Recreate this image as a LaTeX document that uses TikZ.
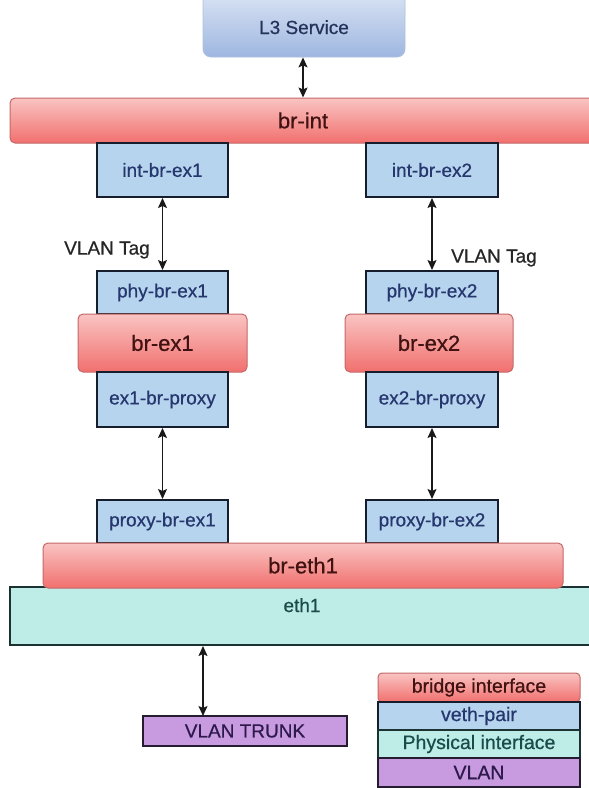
\documentclass[tikz,border=0pt]{standalone}
\usepackage{fontspec}
\setmainfont{Liberation Sans}
\newfontface\medface{Liberation Sans}[FakeBold=0.6]
\usetikzlibrary{arrows.meta,calc}
\definecolor{vfill}{RGB}{182,212,238}
\definecolor{vline}{RGB}{22,30,45}
\definecolor{vtext}{RGB}{38,55,110}
\definecolor{rtop}{RGB}{249,196,194}
\definecolor{rbot}{RGB}{241,112,110}
\definecolor{rline}{RGB}{196,104,104}
\definecolor{rtext}{RGB}{65,18,18}
\definecolor{tfill}{RGB}{190,236,231}
\definecolor{tline}{RGB}{28,50,50}
\definecolor{ttext}{RGB}{25,75,75}
\definecolor{pfill}{RGB}{200,155,225}
\definecolor{pline}{RGB}{38,28,48}
\definecolor{ptext}{RGB}{45,25,75}
\definecolor{ltop}{RGB}{238,242,250}
\definecolor{lbot}{RGB}{158,183,224}
\definecolor{lline}{RGB}{175,192,222}
\definecolor{ltext}{RGB}{35,50,90}
\begin{document}
\begin{tikzpicture}[x=1pt,y=-1pt,
  vbox/.style={draw=vline, line width=2pt, fill=vfill, text=vtext, inner sep=0pt,
    font=\medface\fontsize{19}{22}\selectfont},
  rbar/.style={draw=rline, line width=1pt, top color=rtop, bottom color=rbot,
    rounded corners=5pt, text=rtext, inner sep=0pt, font=\medface\fontsize{22}{26}\selectfont},
  tbox/.style={draw=tline, line width=2pt, fill=tfill, text=ttext, inner sep=0pt,
    font=\medface\fontsize{19}{22}\selectfont},
  pbox/.style={draw=pline, line width=2pt, fill=pfill, text=ptext, inner sep=0pt,
    font=\medface\fontsize{19}{22}\selectfont},
  arr/.style={line width=1.4pt, draw=black!90,
    {Stealth[length=10pt,width=9pt,inset=2pt]}-{Stealth[length=10pt,width=9pt,inset=2pt]}},
  tag/.style={inner sep=0pt, text=black!85, font=\medface\fontsize{19}{22}\selectfont},
  leg/.style={inner sep=0pt, minimum width=202pt, font=\medface\fontsize{19.5}{22}\selectfont}
]
\useasboundingbox (0,0) rectangle (589,788);

% L3 service
\node[draw=lline, line width=0.8pt, top color=ltop, bottom color=lbot, rounded corners=8pt,
  text=ltext, inner xsep=0pt, inner ysep=0pt, minimum width=202pt,
  text height=64pt, text depth=23pt, font=\medface\fontsize{19}{22}\selectfont]
  (l3) at (304,13.5) {L3 Service};

% br-int
\node[rbar, minimum width=586pt, minimum height=45pt] (brint) at (303,120.5) {br-int};

% veth boxes upper
\node[vbox, minimum width=131pt, minimum height=54pt] (intex1) at (162.5,170) {int-br-ex1};
\node[vbox, minimum width=132pt, minimum height=54pt] (intex2) at (432,170) {int-br-ex2};
\node[vbox, minimum width=131pt, minimum height=43pt] (phyex1) at (162.5,292.5) {phy-br-ex1};
\node[vbox, minimum width=132pt, minimum height=43pt] (phyex2) at (432,292.5) {phy-br-ex2};

% br-ex bridges
\node[rbar, minimum width=169pt, minimum height=58pt] (brex1) at (162.5,343) {br-ex1};
\node[rbar, minimum width=168pt, minimum height=58pt] (brex2) at (429,343) {br-ex2};

\node[vbox, minimum width=131pt, minimum height=55pt] (exproxy1) at (162.5,399.5) {ex1-br-proxy};
\node[vbox, minimum width=132pt, minimum height=55pt] (exproxy2) at (432,399.5) {ex2-br-proxy};

\node[vbox, minimum width=131pt, minimum height=43pt] (proxyex1) at (162.5,521.5) {proxy-br-ex1};
\node[vbox, minimum width=132pt, minimum height=43pt] (proxyex2) at (432,521.5) {proxy-br-ex2};

% eth1 and br-eth1
\node[tbox, minimum width=584pt, text height=25pt, text depth=33pt] (eth1) at (302,616) {eth1};
\node[rbar, minimum width=520pt, minimum height=45pt] (breth1) at (303,565.5) {br-eth1};

% labels
\node[tag] (tag1) at (107,250) {VLAN Tag};
\node[tag] (tag2) at (494,258) {VLAN Tag};

% arrows
\draw[arr] (l3.south -| brint.north) -- (brint.north);
\draw[arr] (intex1.south) -- (phyex1.north);
\draw[arr] (intex2.south) -- (phyex2.north);
\draw[arr] (exproxy1.south) -- (proxyex1.north);
\draw[arr] (exproxy2.south) -- (proxyex2.north);

% trunk
\node[pbox, minimum width=204pt, minimum height=30pt] (trunk) at (245,731) {VLAN TRUNK};
\coordinate (tr) at (203,716);
\draw[arr] (tr |- eth1.south) -- (tr);

% legend
\node[leg, draw=rline, line width=1pt, top color=rtop, bottom color=rbot, rounded corners=4pt,
  text=rtext, minimum height=29pt] (lg1) at (479,687.5) {bridge interface};
\node[leg, draw=vline, line width=2pt, fill=vfill, text=vtext, minimum height=28pt]
  (lg2) at (479,716) {veth-pair};
\node[leg, draw=tline, line width=2pt, fill=tfill, text=ttext, minimum height=28pt]
  (lg3) at (479,744) {Physical interface};
\node[leg, draw=pline, line width=2pt, fill=pfill, text=ptext, minimum height=29pt]
  (lg4) at (479,772.5) {VLAN};
\end{tikzpicture}
\end{document}
